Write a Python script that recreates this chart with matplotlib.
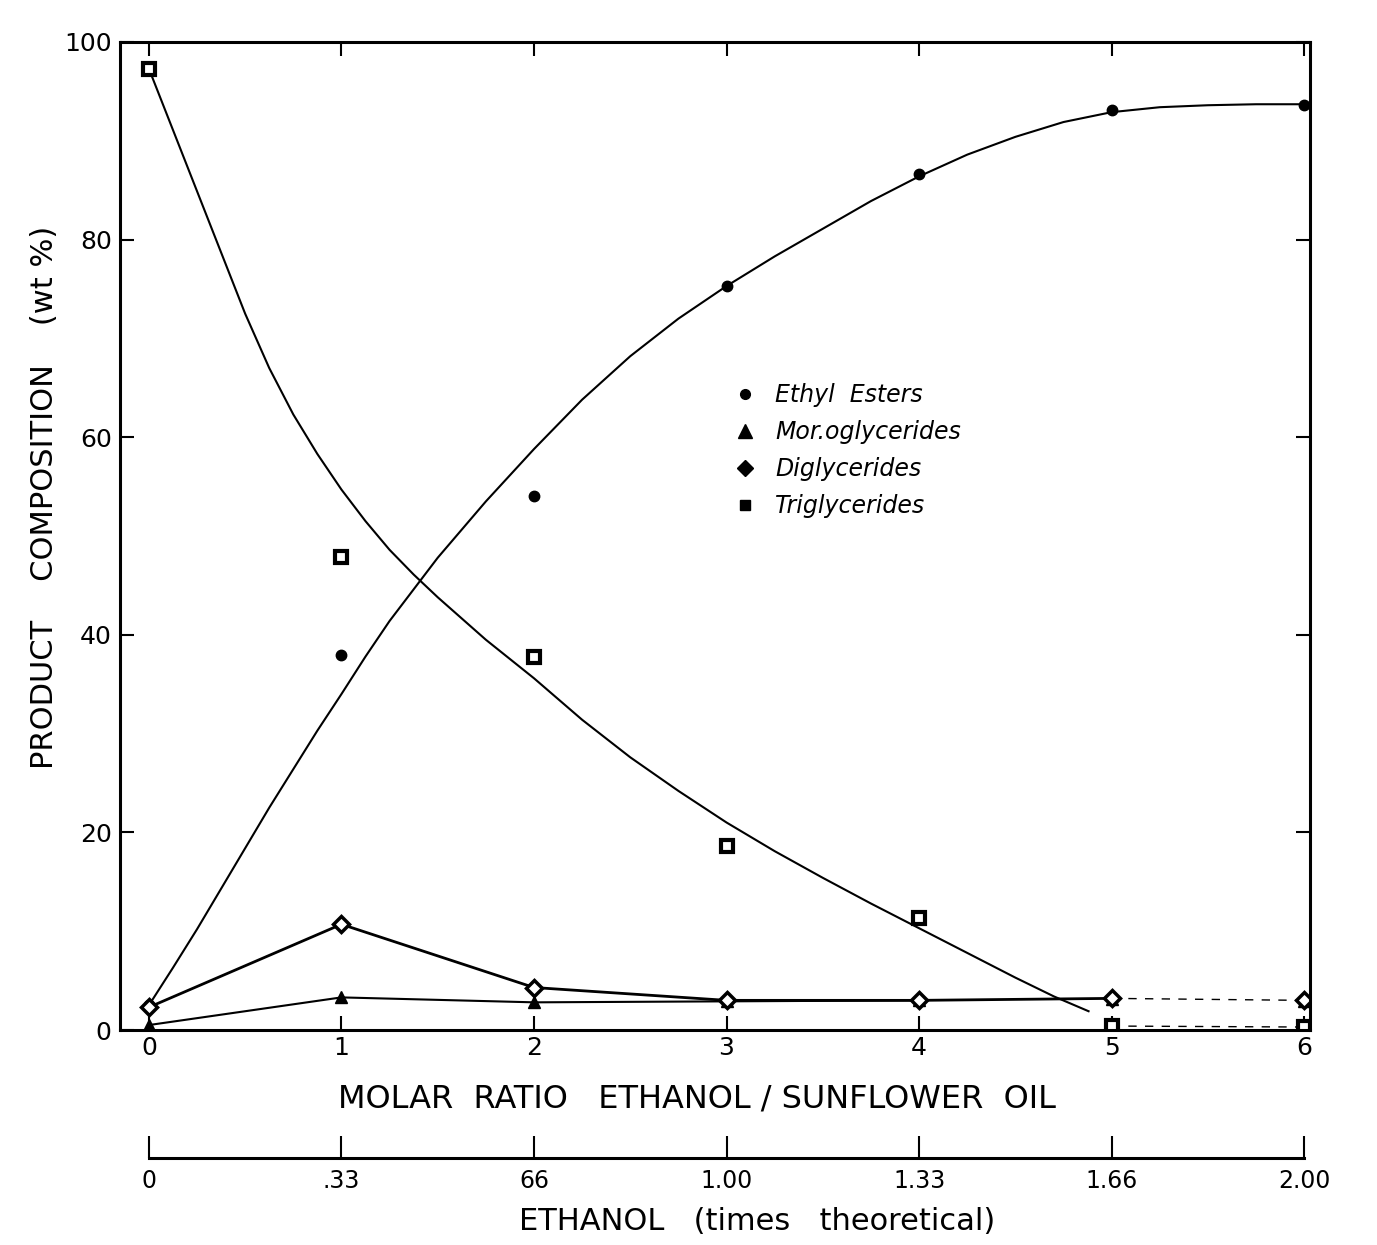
import matplotlib
matplotlib.use("Agg")
import matplotlib.pyplot as plt
from matplotlib.lines import Line2D

plt.rcParams['font.family'] = ['DejaVu Sans']

# ---------------- data ----------------
molar_ratio = [0, 1, 2, 3, 4, 5, 6]

ester_pts = [2.5, 38.0, 54.0, 75.3, 86.6, 93.1, 93.6]
mono_pts = [0.5, 3.3, 2.8, 2.9, 3.0, 3.1, 2.9]
di_pts = [2.3, 10.7, 4.3, 3.0, 3.0, 3.2, 3.0]
tri_x = [0, 1, 2, 3, 4, 5, 6]
tri_pts = [97.3, 47.9, 37.8, 18.6, 11.3, 0.4, 0.3]

# drawn fitted curves
ester_curve_x = [0, 0.125, 0.25, 0.375, 0.5, 0.625, 0.75, 0.875, 1.0, 1.125, 1.25,
                 1.5, 1.75, 2.0, 2.25, 2.5, 2.75, 3.0, 3.25, 3.5, 3.75, 4.0, 4.25,
                 4.5, 4.75, 5.0, 5.25, 5.5, 5.75, 6.0]
ester_curve_y = [2.5, 6.3, 10.2, 14.3, 18.4, 22.5, 26.4, 30.3, 34.0, 37.8, 41.4,
                 47.8, 53.5, 58.8, 63.8, 68.2, 72.0, 75.3, 78.3, 81.1, 83.9, 86.4, 88.6,
                 90.4, 91.9, 92.9, 93.4, 93.6, 93.7, 93.7]
tri_curve_x = [0, 0.125, 0.25, 0.375, 0.5, 0.625, 0.75, 0.875, 1.0, 1.125, 1.25,
               1.375, 1.5, 1.75, 2.0, 2.25, 2.5, 2.75, 3.0, 3.25, 3.5, 3.75, 4.0,
               4.25, 4.5, 4.7, 4.88]
tri_curve_y = [97.3, 91.1, 84.9, 78.7, 72.5, 67.0, 62.3, 58.3, 54.7, 51.5, 48.6,
               46.1, 43.8, 39.5, 35.6, 31.4, 27.6, 24.2, 21.0, 18.1, 15.4, 12.8, 10.3,
               7.8, 5.3, 3.4, 1.9]

y_ticks = [0, 20, 40, 60, 80, 100]
x_ticks = [0, 1, 2, 3, 4, 5, 6]
x_ticklabels = ['0', '1', '2', '3', '4', '5', '6']
ethanol_ticklabels = ['0', '.33', '66', '1.00', '1.33', '1.66', '2.00']

legend_labels = ['Ethyl  Esters', 'Mor.oglycerides', 'Diglycerides', 'Triglycerides']

# ---------------- figure ----------------
W, H = 1377, 1245
fig = plt.figure(figsize=(W / 100, H / 100), dpi=100)

L, R, T, B = 120, 1310, 42, 1030
ax = fig.add_axes([L / W, 1 - B / H, (R - L) / W, (B - T) / H])
ax.set_xlim(-0.15, 6.03)
ax.set_ylim(0, 100)

lw_line = 1.5
# fitted curves
ax.plot(ester_curve_x, ester_curve_y, color='black', lw=lw_line)
ax.plot(tri_curve_x, tri_curve_y, color='black', lw=lw_line)
# mono & di connecting lines
ax.plot(molar_ratio[:5], mono_pts[:5], color='black', lw=lw_line)
ax.plot(molar_ratio[:6], di_pts[:6], color='black', lw=2.0)
ax.plot(molar_ratio[5:], di_pts[5:], color='black', lw=1.0, ls=(0, (6, 6)))
ax.plot(tri_x[5:], tri_pts[5:], color='black', lw=1.0, ls=(0, (6, 6)))

# markers
ax.plot(molar_ratio, ester_pts, ls='none', marker='o', ms=7.5, color='black')
ax.plot(molar_ratio, mono_pts, ls='none', marker='^', ms=9, color='black')
ax.plot(molar_ratio, di_pts, ls='none', marker='D', ms=8, mfc='white',
        mec='black', mew=2.5)
ax.plot(tri_x, tri_pts, ls='none', marker='s', ms=8, mfc='white', mec='black', mew=3)

for s in ax.spines.values():
    s.set_linewidth(2.2)

ax.set_yticks(y_ticks)
ax.set_yticklabels([str(v) for v in y_ticks], fontsize=18)
ax.set_xticks(x_ticks)
ax.set_xticklabels(x_ticklabels, fontsize=18)
ax.tick_params(axis='both', direction='in', length=10, width=1.5,
               top=True, right=True, pad=6)
ax.tick_params(axis='x', pad=4)

# legend
handles = [
    Line2D([], [], ls='none', marker='o', ms=7, color='black'),
    Line2D([], [], ls='none', marker='^', ms=10, color='black'),
    Line2D([], [], ls='none', marker='D', ms=8, color='black'),
    Line2D([], [], ls='none', marker='s', ms=7, color='black'),
]
leg = ax.legend(handles, legend_labels, loc='upper left', bbox_to_anchor=(0.515, 0.655),
                frameon=False, fontsize=17, handlelength=1.0, handletextpad=0.8,
                labelspacing=0.55, borderpad=0, borderaxespad=0)
for t in leg.get_texts():
    t.set_fontstyle('italic')

# axis labels
fig.text(697 / W, 1 - 1099 / H, 'MOLAR  RATIO   ETHANOL / SUNFLOWER  OIL',
         ha='center', va='center', fontsize=23)
fig.text(45 / W, 1 - 497 / H, 'PRODUCT    COMPOSITION    (wt %)', rotation=90,
         ha='center', va='center', fontsize=22)

# secondary scale: ethanol, times theoretical
ax2 = fig.add_axes([L / W, 1 - 1158 / H, (R - L) / W, 0.02])
ax2.set_xlim(ax.get_xlim())
ax2.set_ylim(0, 1)
for k in ['top', 'left', 'right']:
    ax2.spines[k].set_visible(False)
ax2.spines['bottom'].set_linewidth(2.2)
ax2.spines['bottom'].set_bounds(molar_ratio[0], molar_ratio[-1])
ax2.set_yticks([])
ax2.set_xticks(x_ticks)
ax2.set_xticklabels(ethanol_ticklabels, fontsize=17)
ax2.tick_params(axis='x', direction='in', length=16, width=1.5, pad=8)
ax2.patch.set_visible(False)

fig.text(757 / W, 1 - 1222 / H, 'ETHANOL   (times   theoretical)',
         ha='center', va='center', fontsize=22)

fig.savefig('out.png', dpi=100, facecolor='white')
